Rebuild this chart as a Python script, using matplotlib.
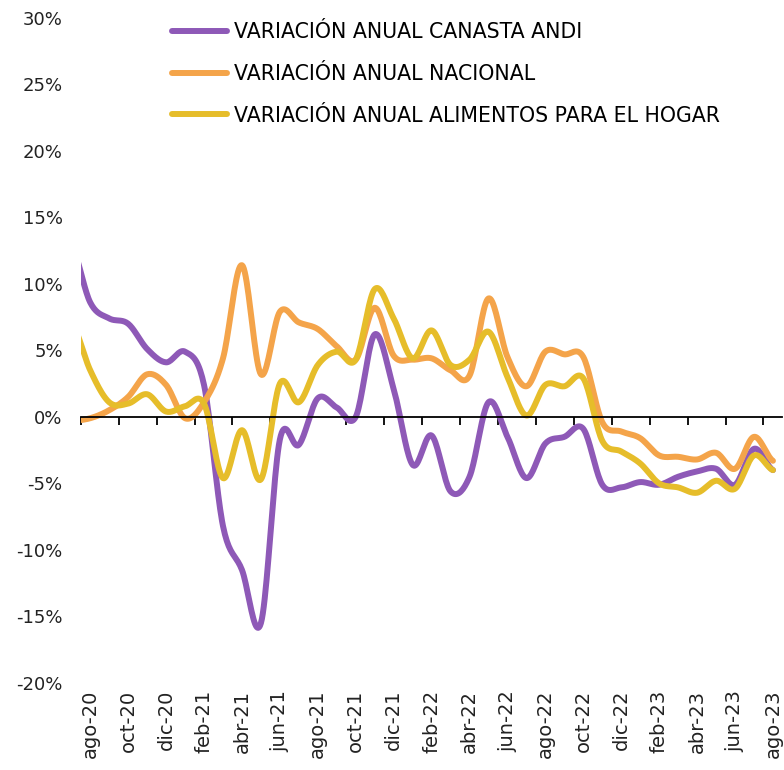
import numpy as np
import matplotlib.pyplot as plt

# meses (jul-20 queda recortado por el borde izquierdo del eje)
meses = ['jul-20', 'ago-20', 'sep-20', 'oct-20', 'nov-20', 'dic-20',
         'ene-21', 'feb-21', 'mar-21', 'abr-21', 'may-21', 'jun-21',
         'jul-21', 'ago-21', 'sep-21', 'oct-21', 'nov-21', 'dic-21',
         'ene-22', 'feb-22', 'mar-22', 'abr-22', 'may-22', 'jun-22',
         'jul-22', 'ago-22', 'sep-22', 'oct-22', 'nov-22', 'dic-22',
         'ene-23', 'feb-23', 'mar-23', 'abr-23', 'may-23', 'jun-23',
         'jul-23', 'ago-23']

canasta_andi = [13.0, 8.6, 7.4, 7.0, 5.1, 4.1, 4.9, 2.4, -8.2, -11.5, -15.5, -1.7,
                -2.1, 1.4, 0.7, 0.0, 6.2, 2.1, -3.6, -1.4, -5.6, -4.5, 1.1, -1.5,
                -4.6, -2.0, -1.5, -0.9, -5.1, -5.3, -4.9, -5.1, -4.5, -4.1, -3.9,
                -5.1, -2.4, -4.0]
nacional = [-0.3, -0.1, 0.5, 1.5, 3.2, 2.4, -0.1, 1.1, 4.4, 11.4, 3.2, 7.9,
            7.1, 6.6, 5.3, 4.3, 8.2, 4.6, 4.3, 4.4, 3.5, 3.1, 8.9, 4.5,
            2.3, 4.9, 4.7, 4.5, -0.4, -1.1, -1.6, -2.9, -3.0, -3.2, -2.7,
            -3.9, -1.5, -3.3]
alimentos_hogar = [7.2, 3.5, 1.1, 1.0, 1.7, 0.4, 0.8, 1.0, -4.6, -1.0, -4.7, 2.5,
                   1.1, 3.9, 4.9, 4.3, 9.6, 7.4, 4.4, 6.5, 3.9, 4.3, 6.4, 3.0,
                   0.1, 2.4, 2.3, 2.9, -1.8, -2.6, -3.5, -5.0, -5.3, -5.7, -4.8,
                   -5.4, -2.9, -4.0]

series = [
    ('VARIACIÓN ANUAL CANASTA ANDI', canasta_andi, '#8E59B7'),
    ('VARIACIÓN ANUAL NACIONAL', nacional, '#F4A44A'),
    ('VARIACIÓN ANUAL ALIMENTOS PARA EL HOGAR', alimentos_hogar, '#E6BD2A'),
]


def suavizar(x, y, n=20):
    # curva suave tipo Excel (Catmull-Rom)
    y = np.asarray(y, dtype=float)
    p = np.concatenate([[y[0]], y, [y[-1]]])
    xs, ys = [], []
    t = np.linspace(0, 1, n, endpoint=False)
    for i in range(len(y) - 1):
        p0, p1, p2, p3 = p[i], p[i + 1], p[i + 2], p[i + 3]
        seg = 0.5 * (2 * p1 + (-p0 + p2) * t + (2 * p0 - 5 * p1 + 4 * p2 - p3) * t ** 2
                     + (-p0 + 3 * p1 - 3 * p2 + p3) * t ** 3)
        xs.append(x[i] + t * (x[i + 1] - x[i]))
        ys.append(seg)
    xs.append([x[-1]])
    ys.append([y[-1]])
    return np.concatenate(xs), np.concatenate(ys)


x = np.arange(len(meses)) - 1   # ago-20 = 0

fig = plt.figure(figsize=(7.84, 7.70), dpi=100)
ax = fig.add_axes([0.103, 0.113, 0.895, 0.864])

for nombre, valores, color in series:
    xs, ys = suavizar(x, valores)
    ax.plot(xs, ys, color=color, lw=4.3, label=nombre, solid_capstyle='round')

ax.set_xlim(-0.5, 36.5)
ax.set_ylim(-20, 30)

for s in ['top', 'right', 'left']:
    ax.spines[s].set_visible(False)
ax.spines['bottom'].set_position(('data', 0))
ax.spines['bottom'].set_linewidth(1.3)
ax.spines['bottom'].set_color('black')
ax.set_xticks(np.arange(-0.5, 36, 2))
ax.set_xticklabels([])
ax.tick_params(axis='x', direction='out', length=6, width=1.3, color='black')

yt = np.arange(-20, 31, 5)
ax.set_yticks(yt)
ax.set_yticklabels([f'{v}%' for v in yt], fontsize=13, color='#222222')
ax.tick_params(axis='y', length=0, pad=13)

sec = ax.secondary_xaxis('bottom')
pos = x[1::2]
sec.set_xticks(pos)
sec.set_xticklabels(meses[1::2], rotation=90, fontsize=14, color='#222222')
sec.tick_params(length=0, pad=5)
sec.spines['bottom'].set_visible(False)

ax.legend(loc='upper left', bbox_to_anchor=(0.13, 0.993), frameon=False,
          fontsize=14.8, handlelength=2.7, handletextpad=0.3, labelspacing=1.05,
          borderpad=0, borderaxespad=0)

fig.savefig('out.png', dpi=100)
